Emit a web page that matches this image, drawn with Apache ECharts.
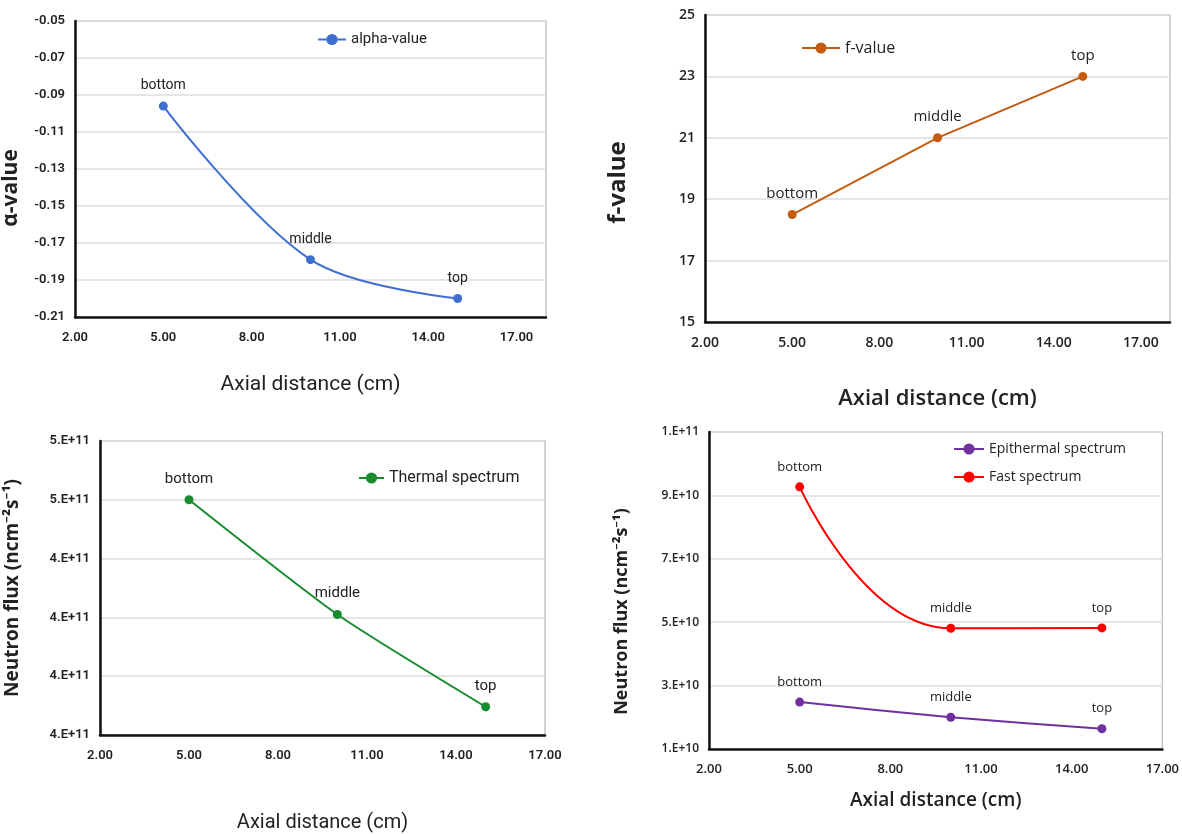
<!DOCTYPE html>
<html>
<head>
  <meta charset="utf-8"/>
  <script src="https://cdn.jsdelivr.net/npm/echarts/dist/echarts.min.js"></script>
  <style>
    html, body { margin: 0; padding: 0; background: #fff; }
    #chartmain { width: 1182px; height: 834px; }
  </style>
</head>
<body>
  <div id="chartmain"></div>

  <script type="text/javascript">
    // data
    var axialDistance = [5, 10, 15];
    var pointNames = ['bottom', 'middle', 'top'];
    var alphaValues = [-0.096, -0.179, -0.2];
    var fValues = [18.5, 21, 23];
    var thermalFlux = [4.5e11, 4.305e11, 4.148e11];
    var epithermalFlux = [2.48e10, 2.0e10, 1.64e10];
    var fastFlux = [9.27e10, 4.81e10, 4.82e10];

    var narrowFont = "'Roboto', 'Noto Sans', sans-serif";
    var wideFont = "'Open Sans', 'Noto Sans', sans-serif";

    function pairs(vals) {
      return vals.map(function (v, i) { return [axialDistance[i], v]; });
    }

    // Excel style "0.E+00"
    function sciLabel(v) {
      var e = Math.floor(Math.log10(v));
      var m = Math.round(v / Math.pow(10, e));
      if (m >= 10) { m = 1; e++; }
      return m + '.E+' + e;
    }

    function xLabel(v) {
      return (Math.round(v - 2) % 3 === 0) ? v.toFixed(2) : '';
    }

    function makeX(idx, max, font, fs, nameFs, gap) {
      return {
        gridIndex: idx, type: 'value', min: 2, max: max, interval: 3,
        name: 'Axial distance (cm)', nameLocation: 'middle', nameGap: gap,
        nameTextStyle: { fontFamily: font, fontSize: nameFs, color: '#222', fontWeight: idx % 2 ? 600 : 'normal' },
        axisLine: { lineStyle: { color: '#111', width: 2.5 } },
        axisTick: { show: false },
        splitLine: { show: false },
        axisLabel: { formatter: xLabel, fontFamily: font, fontSize: fs, color: '#222', fontWeight: 600, margin: 14 }
      };
    }

    // shift moves the rotated title downwards along the axis
    function makeY(idx, min, max, interval, name, fmt, font, fs, nameFs, gap, shift) {
      return {
        gridIndex: idx, type: 'value', min: min, max: max, interval: interval,
        name: name, nameLocation: 'middle', nameGap: gap,
        nameTextStyle: { fontFamily: wideFont, fontSize: nameFs, color: '#222', fontWeight: 'bold',
          padding: [0, shift * 2, 0, 0] },
        axisLine: { show: true, lineStyle: { color: '#111', width: 2.5 } },
        axisTick: { show: false },
        splitLine: { lineStyle: { color: '#dcdcdc', width: 1.5 } },
        axisLabel: { formatter: fmt, fontFamily: font, fontSize: fs, color: '#222', fontWeight: 600, margin: 10 }
      };
    }

    function makeSeries(name, idx, vals, color, smooth, font, fs) {
      return {
        name: name, type: 'line', xAxisIndex: idx, yAxisIndex: idx,
        data: pairs(vals), smooth: smooth,
        symbol: 'circle', symbolSize: 9,
        lineStyle: { color: color, width: 2 },
        itemStyle: { color: color },
        label: {
          show: true, position: 'top', distance: 9,
          formatter: function (p) { return pointNames[p.dataIndex]; },
          fontFamily: font, fontSize: fs, color: '#222'
        }
      };
    }

    var gridBase = { show: true, borderColor: '#c4c4c4', borderWidth: 1.5, containLabel: false };

    var option = {
      animation: false,
      backgroundColor: '#fff',
      grid: [
        Object.assign({ left: 74, top: 21, width: 472, height: 296 }, gridBase),
        Object.assign({ left: 705, top: 15, width: 465, height: 307 }, gridBase),
        Object.assign({ left: 100, top: 441, width: 445, height: 302 }, gridBase),
        Object.assign({ left: 709, top: 432, width: 459, height: 317 }, gridBase)
      ],
      legend: [
        { data: ['alpha-value'], left: 312, top: 27, itemWidth: 28, itemHeight: 14, itemGap: 10,
          textStyle: { fontFamily: narrowFont, fontSize: 15, color: '#222' } },
        { data: ['f-value'], left: 796, top: 35, itemWidth: 38, itemHeight: 14,
          textStyle: { fontFamily: wideFont, fontSize: 16, color: '#222' } },
        { data: ['Thermal spectrum'], left: 353, top: 465, itemWidth: 25, itemHeight: 14,
          textStyle: { fontFamily: narrowFont, fontSize: 16, color: '#222' } },
        { data: ['Epithermal spectrum', 'Fast spectrum'], orient: 'vertical', left: 948, top: 437,
          itemWidth: 30, itemHeight: 14, itemGap: 14,
          textStyle: { fontFamily: wideFont, fontSize: 14, color: '#222' } }
      ],
      xAxis: [
        makeX(0, 18, narrowFont, 13, 21, 57),
        makeX(1, 18, wideFont, 14, 22, 66),
        makeX(2, 17, narrowFont, 13, 20, 78),
        makeX(3, 17, wideFont, 13, 19, 42)
      ],
      yAxis: [
        makeY(0, -0.21, -0.05, 0.02, 'α-value', function (v) { return v.toFixed(2); }, narrowFont, 13, 21, 53, 19),
        makeY(1, 15, 25, 2, 'f-value', function (v) { return String(v); }, wideFont, 14, 24, 75, 14),
        makeY(2, 4.1e11, 4.6e11, 1e10, 'Neutron flux (ncm⁻²s⁻¹)', sciLabel, narrowFont, 13, 19, 78, 0),
        makeY(3, 1e10, 1.1e11, 2e10, 'Neutron flux (ncm⁻²s⁻¹)', sciLabel, wideFont, 12, 18, 78, 21)
      ],
      series: [
        makeSeries('alpha-value', 0, alphaValues, '#3d6fd1', 0.35, narrowFont, 14),
        makeSeries('f-value', 1, fValues, '#c55a11', false, wideFont, 15),
        makeSeries('Thermal spectrum', 2, thermalFlux, '#1a8c30', 0.2, narrowFont, 15),
        makeSeries('Epithermal spectrum', 3, epithermalFlux, '#7030a0', 0.2, wideFont, 13),
        makeSeries('Fast spectrum', 3, fastFlux, '#ff0000', 0.5, wideFont, 13)
      ]
    };

    var myChart = echarts.init(document.getElementById('chartmain'));
    myChart.setOption(option);
  </script>
</body>
</html>
